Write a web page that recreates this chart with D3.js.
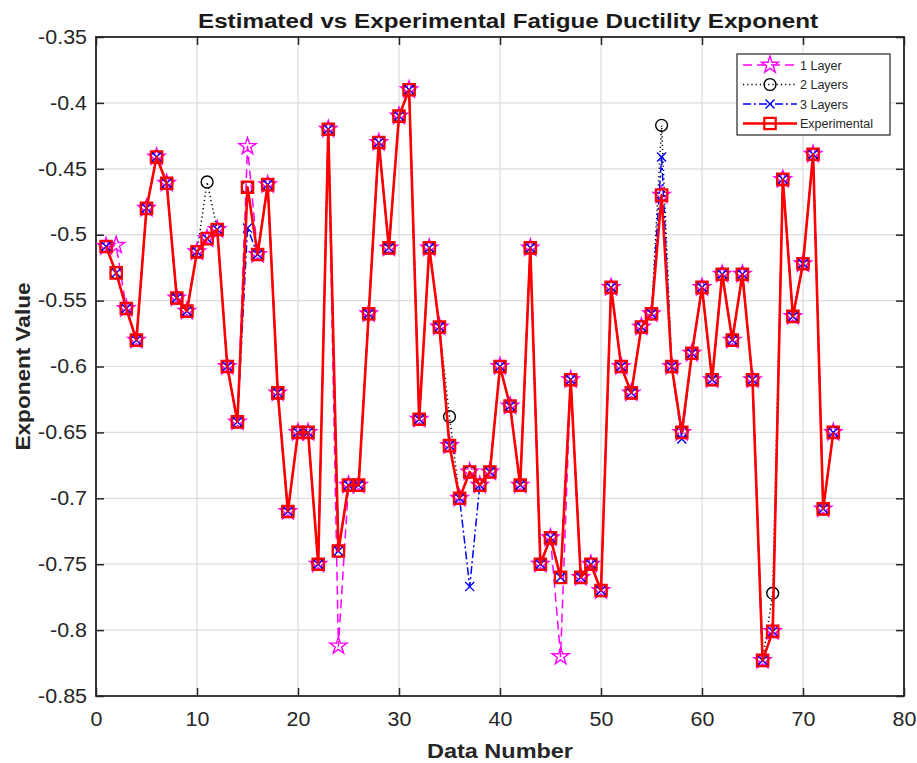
<!DOCTYPE html>
<meta charset="utf-8">
<script src="https://d3js.org/d3.v7.min.js"></script>
<style>
  body { margin: 0; background: #fff; }
  text { font-family: "Liberation Sans", Arial, sans-serif; }
</style>
<div id="graph"></div>
<script>

// data
var dataNumbers = d3.range(1, 74)

var experimental = [-0.509,-0.529,-0.556,-0.580,-0.480,-0.441,-0.461,-0.548,-0.558,-0.513,
  -0.503,-0.496,-0.600,-0.642,-0.464,-0.515,-0.462,-0.620,-0.710,-0.650,
  -0.650,-0.750,-0.420,-0.740,-0.690,-0.690,-0.560,-0.430,-0.510,-0.410,
  -0.390,-0.640,-0.510,-0.570,-0.660,-0.700,-0.680,-0.690,-0.680,-0.600,
  -0.630,-0.690,-0.510,-0.750,-0.730,-0.760,-0.610,-0.760,-0.750,-0.770,
  -0.540,-0.600,-0.620,-0.570,-0.560,-0.470,-0.600,-0.650,-0.590,-0.540,
  -0.610,-0.530,-0.580,-0.530,-0.610,-0.823,-0.801,-0.458,-0.562,-0.522,
  -0.439,-0.708,-0.650]

var layer1 = [-0.509,-0.508,-0.556,-0.580,-0.480,-0.441,-0.461,-0.548,-0.558,-0.513,
  -0.503,-0.496,-0.600,-0.642,-0.433,-0.515,-0.462,-0.620,-0.710,-0.650,
  -0.650,-0.750,-0.420,-0.812,-0.690,-0.690,-0.560,-0.430,-0.510,-0.410,
  -0.390,-0.640,-0.510,-0.570,-0.660,-0.700,-0.680,-0.690,-0.680,-0.600,
  -0.630,-0.690,-0.510,-0.750,-0.730,-0.820,-0.610,-0.760,-0.750,-0.770,
  -0.540,-0.600,-0.620,-0.570,-0.560,-0.470,-0.600,-0.650,-0.590,-0.540,
  -0.610,-0.530,-0.580,-0.530,-0.610,-0.823,-0.801,-0.458,-0.562,-0.522,
  -0.439,-0.708,-0.650]

var layer2 = [-0.509,-0.529,-0.556,-0.580,-0.480,-0.441,-0.461,-0.548,-0.558,-0.513,
  -0.460,-0.496,-0.600,-0.642,-0.464,-0.515,-0.462,-0.620,-0.710,-0.650,
  -0.650,-0.750,-0.420,-0.740,-0.690,-0.690,-0.560,-0.430,-0.510,-0.410,
  -0.390,-0.640,-0.510,-0.570,-0.638,-0.700,-0.680,-0.690,-0.680,-0.600,
  -0.630,-0.690,-0.510,-0.750,-0.730,-0.760,-0.610,-0.760,-0.750,-0.770,
  -0.540,-0.600,-0.620,-0.570,-0.560,-0.417,-0.600,-0.650,-0.590,-0.540,
  -0.610,-0.530,-0.580,-0.530,-0.610,-0.823,-0.772,-0.458,-0.562,-0.522,
  -0.439,-0.708,-0.650]

var layer3 = [-0.509,-0.529,-0.556,-0.580,-0.480,-0.441,-0.461,-0.548,-0.558,-0.513,
  -0.503,-0.496,-0.600,-0.642,-0.495,-0.515,-0.462,-0.620,-0.710,-0.650,
  -0.650,-0.750,-0.420,-0.740,-0.690,-0.690,-0.560,-0.430,-0.510,-0.410,
  -0.390,-0.640,-0.510,-0.570,-0.660,-0.700,-0.767,-0.690,-0.680,-0.600,
  -0.630,-0.690,-0.510,-0.750,-0.730,-0.760,-0.610,-0.760,-0.750,-0.770,
  -0.540,-0.600,-0.620,-0.570,-0.560,-0.441,-0.600,-0.655,-0.590,-0.540,
  -0.610,-0.530,-0.580,-0.530,-0.610,-0.823,-0.801,-0.458,-0.562,-0.522,
  -0.439,-0.708,-0.650]

var xTicks = [0, 10, 20, 30, 40, 50, 60, 70, 80]
var yTicks = [-0.85, -0.8, -0.75, -0.7, -0.65, -0.6, -0.55, -0.5, -0.45, -0.4, -0.35]

var series = [
  {name: "1 Layer", values: layer1, color: "#ff00ff", dash: "9,5", width: 1.5, symbol: d3.symbolStar, size: 90},
  {name: "2 Layers", values: layer2, color: "#000000", dash: "1.2,3", width: 1.5, symbol: d3.symbolCircle, size: 110},
  {name: "3 Layers", values: layer3, color: "#0000ff", dash: "8,3,2,3", width: 1.5, symbol: d3.symbolTimes, size: 55},
  {name: "Experimental", values: experimental, color: "#ff0000", dash: null, width: 2.6, symbol: d3.symbolSquare, size: 130}
]

// plot box
var margin = {top: 37, right: 13, bottom: 67, left: 96},
    width = 917 - margin.left - margin.right,
    height = 763 - margin.top - margin.bottom;

var root = d3.select("#graph")
  .append("svg")
  .attr("width", 917)
  .attr("height", 763)

var svg = root.append("g")
  .attr("transform", `translate(${margin.left}, ${margin.top})`);

var x = d3.scaleLinear().domain([0, 80]).range([0, width])
var y = d3.scaleLinear().domain([-0.85, -0.35]).range([height, 0])

// grid
svg.append("g")
  .selectAll("line")
  .data(xTicks)
  .join("line")
  .attr("x1", d => x(d)).attr("x2", d => x(d))
  .attr("y1", 0).attr("y2", height)
  .attr("stroke", "#dcdcdc").attr("stroke-width", 1.2)

svg.append("g")
  .selectAll("line")
  .data(yTicks)
  .join("line")
  .attr("y1", d => y(d)).attr("y2", d => y(d))
  .attr("x1", 0).attr("x2", width)
  .attr("stroke", "#dcdcdc").attr("stroke-width", 1.2)

// axes with inward ticks on all four sides
var tickLen = 8
svg.append("g")
  .attr("transform", `translate(0, ${height})`)
  .call(d3.axisBottom(x).tickValues(xTicks).tickSizeInner(-tickLen).tickSizeOuter(0).tickPadding(16))
  .call(g => g.select(".domain").remove())
  .selectAll("text").attr("class", "ticklabel")

svg.append("g")
  .call(d3.axisLeft(y).tickValues(yTicks).tickSizeInner(-tickLen).tickSizeOuter(0).tickPadding(9)
    .tickFormat(d => String(+d.toFixed(2))))
  .call(g => g.select(".domain").remove())
  .selectAll("text").attr("class", "ticklabel")

// the original font is a bit wider than Liberation Sans
svg.selectAll(".ticklabel")
  .style("font-size", "19.5px").attr("fill", "#262626")
  .each(function() {
    this.setAttribute("textLength", this.getComputedTextLength() * 1.1)
    this.setAttribute("lengthAdjust", "spacingAndGlyphs")
  })

svg.append("g")
  .call(d3.axisTop(x).tickValues(xTicks).tickSizeInner(-tickLen).tickSizeOuter(0).tickFormat(""))
  .call(g => g.select(".domain").remove())

svg.append("g")
  .attr("transform", `translate(${width}, 0)`)
  .call(d3.axisRight(y).tickValues(yTicks).tickSizeInner(-tickLen).tickSizeOuter(0).tickFormat(""))
  .call(g => g.select(".domain").remove())

svg.selectAll(".tick line").attr("stroke", "#262626").attr("stroke-width", 1.5)

svg.append("rect")
  .attr("x", 0).attr("y", 0).attr("width", width).attr("height", height)
  .attr("fill", "none").attr("stroke", "#262626").attr("stroke-width", 1.8)

// lines and markers
var line = d3.line()
  .x((d, i) => x(dataNumbers[i]))
  .y(d => y(d))

series.forEach(function(s) {
  svg.append("path")
    .datum(s.values)
    .attr("d", line)
    .attr("fill", "none")
    .attr("stroke", s.color)
    .attr("stroke-width", s.width)
    .attr("stroke-dasharray", s.dash)
    .attr("stroke-linejoin", "round")

  svg.append("g")
    .selectAll("path")
    .data(s.values)
    .join("path")
    .attr("d", d3.symbol(s.symbol, s.size))
    .attr("transform", (d, i) => `translate(${x(dataNumbers[i])}, ${y(d)})`)
    .attr("fill", "none")
    .attr("stroke", s.color)
    .attr("stroke-width", s.name == "Experimental" ? 2.2 : 1.4)
})

// legend
var legend = root.append("g").attr("transform", "translate(737, 54)")
legend.append("rect")
  .attr("width", 153).attr("height", 81)
  .attr("fill", "white").attr("stroke", "#262626").attr("stroke-width", 1.2)

series.forEach(function(s, i) {
  var ly = 11 + i * 19.5
  legend.append("line")
    .attr("x1", 6).attr("x2", 60).attr("y1", ly).attr("y2", ly)
    .attr("stroke", s.color).attr("stroke-width", s.width)
    .attr("stroke-dasharray", s.dash)
  legend.append("path")
    .attr("d", d3.symbol(s.symbol, s.size))
    .attr("transform", `translate(33, ${ly})`)
    .attr("fill", "none").attr("stroke", s.color)
    .attr("stroke-width", s.name == "Experimental" ? 2.2 : 1.4)
  legend.append("text")
    .attr("x", 63).attr("y", ly + 4.5)
    .text(s.name)
    .style("font-size", "12.5px").attr("fill", "#262626")
})

// titles
root.append("text")
  .attr("x", 508).attr("y", 28)
  .attr("text-anchor", "middle")
  .attr("textLength", 620).attr("lengthAdjust", "spacingAndGlyphs")
  .text("Estimated vs Experimental Fatigue Ductility Exponent")
  .style("font-size", "20px").style("font-weight", "bold").attr("fill", "#1a1a1a")

root.append("text")
  .attr("x", margin.left + width / 2).attr("y", 758)
  .attr("text-anchor", "middle")
  .attr("textLength", 146).attr("lengthAdjust", "spacingAndGlyphs")
  .text("Data Number")
  .style("font-size", "21px").style("font-weight", "bold").attr("fill", "#262626")

root.append("text")
  .attr("transform", `translate(30, ${margin.top + height / 2}) rotate(-90)`)
  .attr("text-anchor", "middle")
  .attr("textLength", 168).attr("lengthAdjust", "spacingAndGlyphs")
  .text("Exponent Value")
  .style("font-size", "21px").style("font-weight", "bold").attr("fill", "#262626")

</script>
